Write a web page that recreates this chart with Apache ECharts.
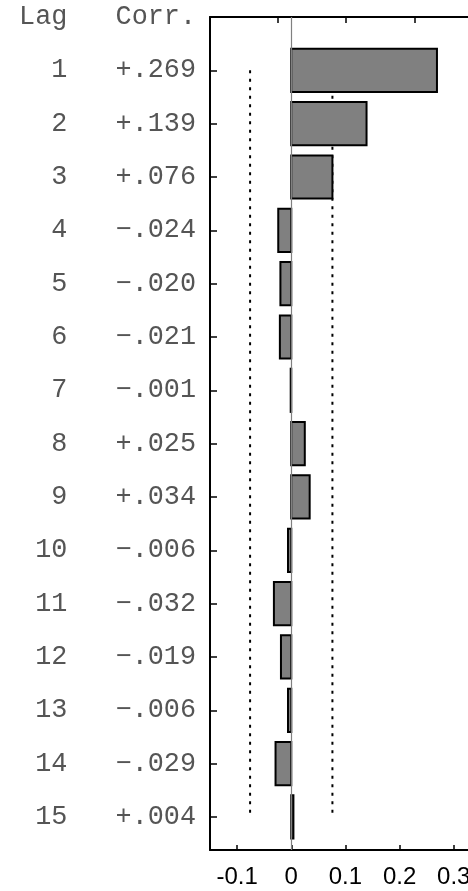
<!DOCTYPE html>
<html>
<head>
<meta charset="utf-8">
<script src="https://cdn.jsdelivr.net/npm/echarts@6/dist/echarts.min.js"></script>
<style>
  html, body { margin: 0; padding: 0; background: #fff; }
  #chart { width: 468px; height: 891px; }
</style>
</head>
<body>
<div id="chart"></div>
<script>
// Autocorrelation function: lag, coefficient, and the ± confidence band
const lags = [1, 2, 3, 4, 5, 6, 7, 8, 9, 10, 11, 12, 13, 14, 15];
const corr = [0.269, 0.139, 0.076, -0.024, -0.020, -0.021, -0.001, 0.025, 0.034, -0.006, -0.032, -0.019, -0.006, -0.029, 0.004];
const confLimit = 0.076;
const headerLag = 'Lag';
const headerCorr = 'Corr.';
const xTicks = [-0.1, 0, 0.1, 0.2, 0.3, 0.4];

const X_MIN = -0.15, X_MAX = 0.45;
const Y_MAX = 15.62;
const MONO = '"Liberation Mono", "DejaVu Sans Mono", monospace';

function fmtCorr(v) {
  const s = Math.abs(v).toFixed(3).replace(/^0/, '');
  return (v < 0 ? '\u2212' : '+') + s;
}
function padLeft(s, n) { while (s.length < n) s = ' ' + s; return s; }
function rowText(value) {
  if (value === 0) return padLeft(headerLag, 3) + '   ' + headerCorr;
  const i = lags.indexOf(value);
  if (i < 0) return '';
  return padLeft(String(lags[i]), 3) + '   ' + fmtCorr(corr[i]);
}

const chart = echarts.init(document.getElementById('chart'), null, { renderer: 'canvas' });

const barData = lags.map((l, i) => [corr[i], l]);
const dotted = { color: '#000', width: 2, type: [3, 5.5] };

chart.setOption({
  animation: false,
  backgroundColor: '#ffffff',
  grid: { left: 210, top: 17, width: 325, height: 833, containLabel: false, outerBoundsMode: 'none' },
  xAxis: [
    {
      type: 'value', position: 'bottom', min: X_MIN, max: X_MAX,
      axisLine: { show: true, onZero: false, lineStyle: { color: '#000', width: 2 } },
      axisTick: { show: true, inside: true, length: 5, customValues: xTicks, lineStyle: { color: '#000', width: 1.5 } },
      axisLabel: {
        show: true, customValues: xTicks, margin: 15, hideOverlap: false,
        fontFamily: '"Liberation Sans", Arial, sans-serif', fontSize: 24, color: '#000',
        formatter: v => String(+v.toFixed(1))
      },
      splitLine: { show: false }
    },
    {
      type: 'value', position: 'top', min: 0, max: 325 / 68.1,
      axisLine: { show: true, onZero: false, lineStyle: { color: '#000', width: 2 } },
      axisTick: { show: true, inside: true, length: 6, customValues: [1, 2, 3, 4], lineStyle: { color: '#000', width: 1.5 } },
      axisLabel: { show: false },
      splitLine: { show: false }
    }
  ],
  yAxis: {
    type: 'value', inverse: true, min: 0, max: Y_MAX,
    axisLine: { show: true, onZero: false, lineStyle: { color: '#000', width: 2 } },
    axisTick: { show: true, inside: true, length: 7, customValues: lags, lineStyle: { color: '#000', width: 1.5 } },
    axisLabel: {
      show: true, margin: 14, hideOverlap: false,
      customValues: [0].concat(lags),
      fontFamily: MONO, fontSize: 26.8, color: '#555',
      formatter: v => rowText(v)
    },
    splitLine: { show: false }
  },
  series: [
    {
      type: 'line',
      data: [[-confLimit, lags[0]], [-confLimit, lags[lags.length - 1]]],
      symbol: 'none', silent: true,
      lineStyle: dotted,
      z: 1
    },
    {
      type: 'line',
      data: [[confLimit, lags[0]], [confLimit, lags[lags.length - 1]]],
      symbol: 'none', silent: true,
      lineStyle: dotted,
      z: 1
    },
    {
      type: 'custom',
      data: barData,
      encode: { x: 0, y: 1 },
      z: 3,
      renderItem: function (params, api) {
        const c = api.value(0), l = api.value(1);
        const p0 = api.coord([0, l - 0.405]);
        const p1 = api.coord([c, l + 0.405]);
        return {
          type: 'rect',
          shape: {
            x: Math.min(p0[0], p1[0]), y: Math.min(p0[1], p1[1]),
            width: Math.abs(p1[0] - p0[0]), height: Math.abs(p1[1] - p0[1])
          },
          style: { fill: '#808080', stroke: '#000', lineWidth: 2 }
        };
      },
      markLine: {
        silent: true, symbol: 'none', label: { show: false },
        lineStyle: { color: '#808080', width: 1.2, type: 'solid' },
        data: [{ xAxis: 0 }]
      }
    }
  ]
});
</script>
</body>
</html>
